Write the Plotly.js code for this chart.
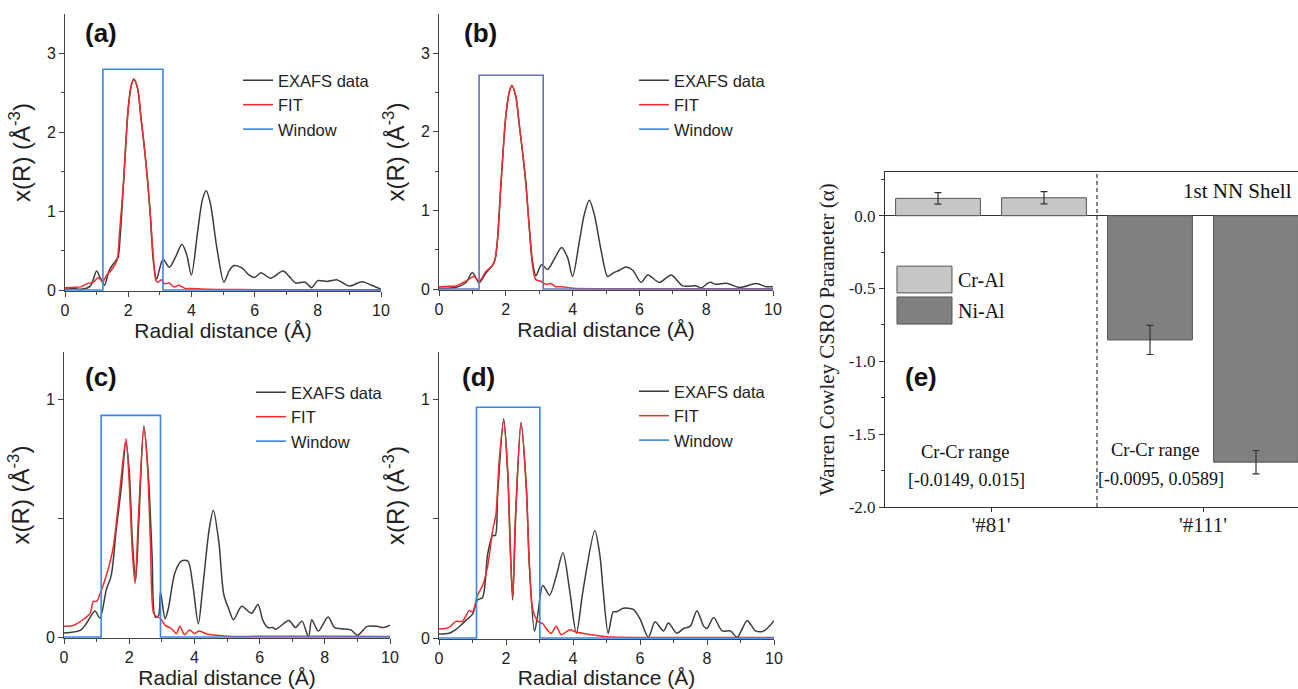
<!DOCTYPE html>
<html>
<head>
<meta charset="utf-8">
<script src="https://cdn.plot.ly/plotly-3.0.1.min.js"></script>
<style>
html,body{margin:0;padding:0;overflow:hidden;background:#fff;}
#chart{width:1320px;height:689px;}
</style>
</head>
<body>
<div id="chart"></div>
<script>
// ---------- Panel (a) ----------
const aDataR = [0,0.3,0.5,0.8,1.0,1.12,1.25,1.4,1.6,1.68,1.75,1.85,2.0,2.1,2.18,2.3,2.4,2.5,2.6,2.7,2.8,2.9,3.1,3.3,3.5,3.7,3.85,4.0,4.2,4.35,4.47,4.6,4.8,5.03,5.2,5.35,5.6,5.8,6.0,6.2,6.5,6.9,7.1,7.3,7.6,7.8,8.0,8.3,8.45,8.6,8.8,9.0,9.4,9.7,10];
const aData  = [0.01,0.02,0.01,0.05,0.24,0.15,0.06,0.25,0.37,0.42,0.7,1.35,2.3,2.6,2.67,2.55,2.2,1.85,1.45,0.95,0.35,0.14,0.39,0.29,0.42,0.58,0.45,0.19,0.75,1.15,1.26,1.1,0.55,0.1,0.25,0.31,0.28,0.2,0.16,0.22,0.15,0.24,0.17,0.09,0.1,0.03,0.12,0.11,0.12,0.13,0.09,0.05,0.105,0.06,0.01];
const aFitR  = [0,0.3,0.5,0.7,0.9,1.05,1.2,1.3,1.5,1.65,1.72,1.85,2.0,2.1,2.18,2.3,2.4,2.5,2.6,2.7,2.8,2.88,2.95,3.05,3.15,3.3,3.45,3.6,3.8,4.0,4.5,5,6,8,10];
const aFit   = [0.03,0.035,0.04,0.08,0.1,0.16,0.1,0.18,0.27,0.38,0.7,1.35,2.3,2.6,2.68,2.55,2.2,1.85,1.45,0.95,0.4,0.12,0.1,0.13,0.08,0.09,0.04,0.06,0.02,0.02,0.01,0.008,0.005,0.005,0.005];
const aWindow = [1.2, 3.1, 2.8];   // start, end, height

// ---------- Panel (b) ----------
const bDataR = [0,0.5,0.8,1.0,1.2,1.4,1.6,1.68,1.75,1.85,2.0,2.1,2.18,2.3,2.4,2.5,2.6,2.7,2.8,2.9,3.07,3.25,3.45,3.67,3.85,4.0,4.2,4.35,4.5,4.65,4.85,5.05,5.2,5.4,5.6,5.8,6.05,6.25,6.6,6.95,7.3,7.7,7.85,8.1,8.3,8.6,9.0,9.5,9.8,10];
const bData  = [0.01,0.02,0.08,0.21,0.08,0.2,0.3,0.38,0.62,1.3,2.2,2.5,2.59,2.45,2.1,1.75,1.35,0.8,0.35,0.17,0.31,0.25,0.38,0.53,0.4,0.16,0.6,0.95,1.13,0.95,0.5,0.16,0.2,0.24,0.28,0.24,0.085,0.18,0.085,0.18,0.04,0.04,0.015,0.085,0.06,0.075,0.02,0.07,0.03,0.03];
const bFitR  = [0,0.3,0.5,0.8,1.05,1.2,1.4,1.6,1.68,1.75,1.85,2.0,2.1,2.18,2.3,2.4,2.5,2.6,2.7,2.8,2.9,3.05,3.2,3.35,3.5,3.7,4.0,5,7,10];
const bFit   = [0.03,0.035,0.04,0.1,0.16,0.1,0.22,0.3,0.38,0.62,1.3,2.2,2.5,2.59,2.45,2.1,1.75,1.35,0.8,0.3,0.12,0.1,0.06,0.07,0.03,0.03,0.01,0.005,0.005,0.005];
const bWindow = [1.2, 3.12, 2.72];

// ---------- Panel (c) ----------
const cDataR = [0,0.5,0.7,0.95,1.1,1.3,1.45,1.6,1.75,1.9,2.0,2.1,2.2,2.3,2.45,2.6,2.7,2.8,2.9,2.96,3.1,3.2,3.4,3.6,3.8,3.95,4.12,4.25,4.45,4.58,4.75,4.9,5.05,5.2,5.45,5.75,5.95,6.1,6.25,6.4,6.5,6.9,7.1,7.3,7.5,7.6,7.8,8.1,8.3,8.5,8.8,9.0,9.3,9.6,9.8,10];
const cData  = [0.017,0.028,0.06,0.11,0.08,0.2,0.26,0.45,0.62,0.82,0.7,0.4,0.24,0.5,0.89,0.65,0.35,0.084,0.09,0.19,0.077,0.12,0.27,0.32,0.32,0.22,0.056,0.2,0.45,0.534,0.4,0.18,0.12,0.073,0.13,0.1,0.137,0.07,0.04,0.04,0.033,0.07,0.04,0.067,0.0,0.073,0.025,0.084,0.04,0.035,0.03,0.007,0.045,0.045,0.04,0.05];
const cFitR  = [0,0.3,0.6,0.8,0.9,1.0,1.1,1.3,1.5,1.7,1.9,2.0,2.1,2.18,2.28,2.45,2.55,2.65,2.75,2.85,2.95,3.1,3.3,3.45,3.55,3.7,3.85,4.0,4.15,4.4,4.7,5.0,6,8,10];
const cFit   = [0.045,0.05,0.075,0.1,0.15,0.15,0.18,0.26,0.37,0.6,0.835,0.65,0.35,0.225,0.5,0.88,0.75,0.4,0.1,0.085,0.08,0.05,0.035,0.015,0.045,0.01,0.03,0.015,0.025,0.012,0.008,0.003,0.003,0.003,0.002];
const cWindow = [1.14, 2.96, 0.933];

// ---------- Panel (d) ----------
const dDataR = [0,0.3,0.5,0.7,0.85,1.0,1.15,1.3,1.45,1.6,1.68,1.75,1.93,2.05,2.15,2.2,2.3,2.45,2.6,2.7,2.85,2.95,3.1,3.3,3.5,3.7,3.9,4.1,4.3,4.65,4.8,4.9,5.05,5.2,5.3,5.5,5.8,6.0,6.25,6.45,6.7,6.85,7.1,7.3,7.5,7.7,7.9,8.0,8.2,8.45,8.7,8.9,9.2,9.45,9.7,10];
const dData  = [0.017,0.02,0.035,0.06,0.08,0.1,0.16,0.17,0.35,0.43,0.43,0.6,0.92,0.7,0.3,0.16,0.55,0.905,0.65,0.3,0.028,0.1,0.22,0.18,0.26,0.358,0.2,0.02,0.2,0.45,0.35,0.2,0.02,0.11,0.11,0.125,0.12,0.08,0.003,0.068,0.03,0.063,0.02,0.04,0.05,0.115,0.05,0.04,0.086,0.03,0.03,0.003,0.073,0.03,0.03,0.073];
const dFitR  = [0,0.3,0.5,0.7,0.9,1.0,1.15,1.3,1.45,1.6,1.7,1.8,1.93,2.05,2.12,2.2,2.28,2.45,2.6,2.7,2.8,2.95,3.1,3.2,3.35,3.5,3.65,3.9,4.1,4.5,5.0,6,8,10];
const dFit   = [0.038,0.045,0.07,0.07,0.115,0.11,0.18,0.22,0.3,0.45,0.52,0.75,0.91,0.7,0.4,0.17,0.5,0.9,0.65,0.3,0.12,0.07,0.06,0.04,0.02,0.05,0.014,0.035,0.025,0.015,0.005,0.002,0.002,0.002];
const dWindow = [1.12, 3.01, 0.968];

// ---------- Panel (e) ----------
const eCategories = ["'#81'", "'#111'"];
const crAl    = [0.119, 0.123];   // both bars at '#81'
const crAlErr = [0.04, 0.042];
const niAl    = [-0.853, -1.692]; // both bars at '#111'
const niAlErr = [0.10, 0.08];
const crCrRange = ["[-0.0149, 0.015]", "[-0.0095, 0.0589]"];
const seriesNames = ["EXAFS data", "FIT", "Window"];

// ---------- layout helpers ----------
const W = 1320, H = 689;
const px = v => v / W;
const py = v => 1 - v / H;
const SANS = "Liberation Sans, Arial, sans-serif";
const SERIF = "Liberation Serif, Times New Roman, serif";
const C_DATA = "#3c3c3c", C_FIT = "#f02c2c", C_WIN = "#3b86e2", C_WIN_B = "#6574b8";
const C_LIGHT = "#c6c6c6", C_DARK = "#808080";

const traces = [];
function panel(idx, dR, d, fR, f, win, xmax, winColor) {
  const xa = idx === 1 ? "x" : "x" + idx;
  const ya = idx === 1 ? "y" : "y" + idx;
  const lg = idx === 1 ? "legend" : "legend" + idx;
  traces.push({x: dR, y: d, xaxis: xa, yaxis: ya, type: "scatter", mode: "lines",
    name: seriesNames[0], legend: lg, line: {color: C_DATA, width: 1.5, shape: "spline", smoothing: 0.8}});
  traces.push({x: fR, y: f, xaxis: xa, yaxis: ya, type: "scatter", mode: "lines",
    name: seriesNames[1], legend: lg, line: {color: C_FIT, width: 1.5, shape: "spline", smoothing: 0.8}});
  const wx = [0, win[0], win[0], win[1], win[1], xmax];
  const wy = [0, 0, win[2], win[2], 0, 0];
  traces.push({x: wx, y: wy, xaxis: xa, yaxis: ya, type: "scatter", mode: "lines",
    name: seriesNames[2], legend: lg, showlegend: winColor === C_WIN,
    line: {color: winColor, width: 1.6}});
  if (winColor !== C_WIN) {
    traces.push({x: [null], y: [null], xaxis: xa, yaxis: ya, type: "scatter", mode: "lines",
      name: seriesNames[2], legend: lg, line: {color: C_WIN, width: 1.6}});
  }
}
panel(1, aDataR, aData, aFitR, aFit, aWindow, 10, C_WIN);
panel(2, bDataR, bData, bFitR, bFit, bWindow, 10, C_WIN_B);
panel(3, cDataR, cData, cFitR, cFit, cWindow, 10, C_WIN);
panel(4, dDataR, dData, dFitR, dFit, dWindow, 10, C_WIN);

// bars for (e): two offset groups per category
for (let i = 0; i < 2; i++) {
  traces.push({type: "bar", x: [eCategories[0]], y: [crAl[i]], xaxis: "x5", yaxis: "y5",
    offsetgroup: "g" + i, name: "Cr-Al", showlegend: false,
    marker: {color: C_LIGHT, line: {color: "#555", width: 1}},
    error_y: {type: "data", array: [crAlErr[i]], color: "#333", thickness: 1.2, width: 3.5}});
  traces.push({type: "bar", x: [eCategories[1]], y: [niAl[i]], xaxis: "x5", yaxis: "y5",
    offsetgroup: "g" + i, name: "Ni-Al", showlegend: false,
    marker: {color: C_DARK, line: {color: "#555", width: 1}},
    error_y: {type: "data", array: [niAlErr[i]], color: "#333", thickness: 1.2, width: 3.5}});
}

function xAxis(dom, anchor) {
  return {domain: dom, anchor: anchor, range: [0, 10], tickvals: [0, 2, 4, 6, 8, 10],
    showline: true, linecolor: "#444", linewidth: 1, ticks: "outside", ticklen: 5, tickcolor: "#444",
    minor: {tickvals: [1, 3, 5, 7, 9], ticks: "outside", ticklen: 3, tickcolor: "#444"},
    showgrid: false, zeroline: false, tickfont: {family: SANS, size: 16, color: "#222"},
    title: {text: "Radial distance (Å)", font: {family: SANS, size: 21, color: "#222"}, standoff: 3}};
}
function yAxis(dom, anchor, big) {
  const o = {domain: dom, anchor: anchor, showline: true, linecolor: "#444", linewidth: 1,
    ticks: "outside", ticklen: 5, tickcolor: "#444", showgrid: false, zeroline: false,
    tickfont: {family: SANS, size: 16, color: "#222"},
    title: {text: "x(R) (Å<sup>-3</sup>)", font: {family: SANS, size: 24, color: "#222"}, standoff: 9}};
  if (big) {
    o.range = [-0.012, 3.5]; o.tickvals = [0, 1, 2, 3];
    o.minor = {tickvals: [0.5, 1.5, 2.5], ticks: "outside", ticklen: 3, tickcolor: "#444"};
  } else {
    o.range = [-0.004, 1.2]; o.tickvals = [0, 1];
    o.minor = {tickvals: [0.5], ticks: "outside", ticklen: 5, tickcolor: "#444"};
  }
  return o;
}
function legendAt(x, y) {
  return {x: px(x), y: py(y), xanchor: "left", yanchor: "top", bgcolor: "rgba(0,0,0,0)",
    font: {family: SANS, size: 16.5, color: "#222"}, tracegroupgap: 0, itemwidth: 30};
}
function label(t, x, y, size, family, bold, anchor) {
  return {text: bold ? "<b>" + t + "</b>" : t, x: px(x), y: py(y), xref: "paper", yref: "paper",
    showarrow: false, xanchor: anchor || "center", yanchor: "middle",
    font: {family: family || SANS, size: size, color: "#111"}};
}

const layout = {
  width: W, height: H, margin: {l: 0, r: 0, t: 0, b: 0},
  paper_bgcolor: "#fff", plot_bgcolor: "#fff", showlegend: true,
  barmode: "group", bargap: 0, bargroupgap: 0.2,
  xaxis: xAxis([px(65), px(381)], "y"),
  yaxis: yAxis([py(291), py(14)], "x", true),
  xaxis2: xAxis([px(439), px(773)], "y2"),
  yaxis2: yAxis([py(290), py(14)], "x2", true),
  xaxis3: xAxis([px(64), px(390)], "y3"),
  yaxis3: yAxis([py(638), py(352)], "x3", false),
  xaxis4: xAxis([px(439), px(774)], "y4"),
  yaxis4: yAxis([py(639), py(352)], "x4", false),
  xaxis5: {domain: [px(885), px(1309)], anchor: "y5", type: "category", categoryorder: "array",
    categoryarray: eCategories, range: [-0.5, 1.5], showline: true, mirror: true, linecolor: "#333",
    ticks: "outside", ticklen: 4, tickcolor: "#333", showgrid: false, zeroline: false,
    ticklabelstandoff: -5,
    tickfont: {family: SERIF, size: 21, color: "#222"}},
  yaxis5: {domain: [py(507), py(172)], anchor: "x5", range: [-2.0, 0.3], tickvals: [-2, -1.5, -1, -0.5, 0],
    ticktext: ["-2.0", "-1.5", "-1.0", "-0.5", "0.0"], showline: true, mirror: true, linecolor: "#333",
    ticks: "outside", ticklen: 5, tickcolor: "#333",
    minor: {tickvals: [-1.75, -1.25, -0.75, -0.25, 0.25], ticks: "outside", ticklen: 3, tickcolor: "#333"},
    showgrid: false, zeroline: true, zerolinecolor: "#333", zerolinewidth: 1,
    tickfont: {family: SERIF, size: 17, color: "#222"},
    title: {text: "Warren Cowley CSRO Parameter (α)", font: {family: SERIF, size: 21, color: "#222"}, standoff: 8}},
  legend: legendAt(238, 63),
  legend2: legendAt(634, 63),
  legend3: legendAt(251, 375),
  legend4: legendAt(634, 374),
  shapes: [
    {type: "line", xref: "x5", yref: "y5 domain", x0: 0.5, x1: 0.5, y0: 0, y1: 1,
      line: {color: "#333", width: 1.2, dash: "4px,3px"}},
    {type: "rect", xref: "x5 domain", yref: "y5 domain", x0: 0.0283, x1: 0.158, y0: 0.639, y1: 0.719,
      fillcolor: C_LIGHT, line: {color: "#555", width: 1}},
    {type: "rect", xref: "x5 domain", yref: "y5 domain", x0: 0.0283, x1: 0.158, y0: 0.546, y1: 0.627,
      fillcolor: C_DARK, line: {color: "#555", width: 1}}
  ],
  annotations: [
    label("(a)", 101, 33, 26, SANS, true),
    label("(b)", 480, 33, 26, SANS, true),
    label("(c)", 101, 377, 26, SANS, true),
    label("(d)", 479, 377, 26, SANS, true),
    label("(e)", 921, 377, 26, SANS, true),
    label("Cr-Al", 956, 279.5, 20, SERIF, false, "left"),
    label("Ni-Al", 956, 310.5, 20, SERIF, false, "left"),
    label("Cr-Cr range", 965, 452, 18.5, SERIF),
    label(crCrRange[0], 966, 480, 18, SERIF),
    label("Cr-Cr range", 1155, 450, 18.5, SERIF),
    label(crCrRange[1], 1161, 479, 18, SERIF),
    label("1st NN Shell", 1294, 191, 21, SERIF, false, "right")
  ]
};

Plotly.newPlot("chart", traces, layout, {displayModeBar: false, staticPlot: true});
</script>
</body>
</html>
